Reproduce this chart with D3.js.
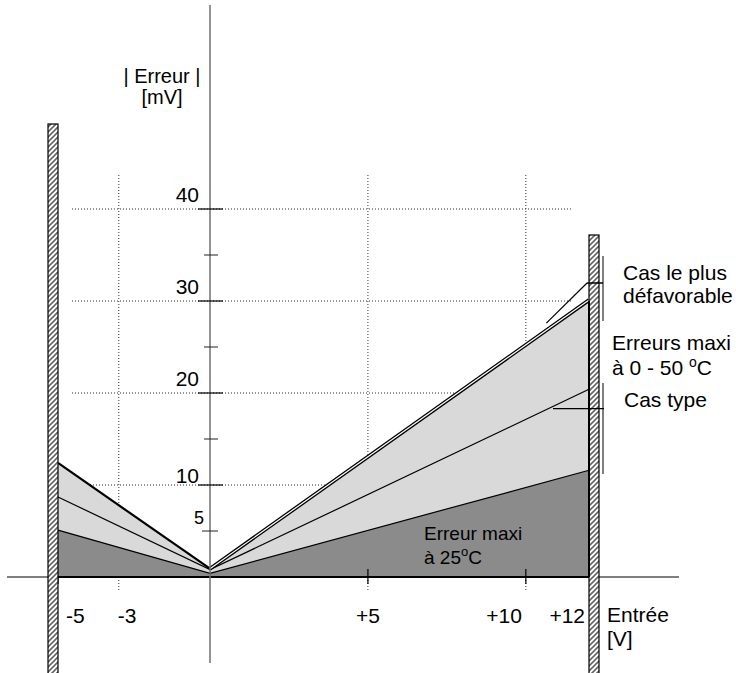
<!DOCTYPE html>
<html>
<head>
<meta charset="utf-8">
<script src="https://cdn.jsdelivr.net/npm/d3@7"></script>
<style>
  body { margin: 0; background: #fff; }
  svg text { font-family: "Liberation Sans", Arial, sans-serif; fill: #000; }
</style>
</head>
<body>
<div id="chart"></div>
<script>
// input voltage points (V)
var inputV = [-5, 0, 12];
// |error| in mV at those points
var worstCase = [12.4, 0.9, 30.1];   // cas le plus défavorable
var typical = [8.7, 0.8, 20.4];      // cas type
var maxAt25 = [5.1, 0.4, 11.6];      // erreur maxi à 25°C

var yGridVals = [10, 20, 30, 40];
var yMajorTicks = [10, 20, 30, 40];
var yMinorTicks = [15, 25, 35];
var yTickLabels = [5, 10, 20, 30, 40];
var xGridVals = [-3, 5, 10];
var xTickVals = [-5, 5, 10];
var xLabelVals = [-5, -3, 5, 10, 12];
var xLabelText = ["-5", "-3", "+5", "+10", "+12"];

var width = 736, height = 673;
var svg = d3.select("#chart").append("svg")
    .attr("width", width)
    .attr("height", height);

var x = d3.scaleLinear().domain([-5, 0, 12]).range([58, 210, 589]);
var y = d3.scaleLinear().domain([0, 40]).range([577, 209]);

var data = inputV.map(function (v, i) {
    return { v: v, worst: worstCase[i], typ: typical[i], low: maxAt25[i] };
});

// hatch pattern for the walls
var defs = svg.append("defs");
var pat = defs.append("pattern")
    .attr("id", "hatch")
    .attr("patternUnits", "userSpaceOnUse")
    .attr("width", 5).attr("height", 5);
pat.append("rect").attr("width", 5).attr("height", 5).attr("fill", "#fff");
pat.append("path")
    .attr("d", "M-1,1 l2,-2 M0,5 l5,-5 M4,6 l2,-2")
    .attr("stroke", "#666")
    .attr("stroke-width", 1.6);

// dotted grid
var grid = svg.append("g");
grid.selectAll("line.h")
    .data(yGridVals)
    .enter().append("line")
    .attr("x1", 72).attr("x2", function (d) { return d == 10 ? 568 : 573; })
    .attr("y1", function (d) { return y(d); })
    .attr("y2", function (d) { return y(d); })
    .attr("stroke", "#333").attr("stroke-width", 1)
    .attr("stroke-dasharray", "1,2");
grid.selectAll("line.v")
    .data(xGridVals)
    .enter().append("line")
    .attr("x1", function (d) { return x(d); })
    .attr("x2", function (d) { return x(d); })
    .attr("y1", 175).attr("y2", 592)
    .attr("stroke", "#333").attr("stroke-width", 1)
    .attr("stroke-dasharray", "1,2");

// areas
var lightArea = d3.area()
    .x(function (d) { return x(d.v); })
    .y0(y(0))
    .y1(function (d) { return y(d.worst); });
var darkArea = d3.area()
    .x(function (d) { return x(d.v); })
    .y0(y(0))
    .y1(function (d) { return y(d.low); });

svg.append("path").datum(data).attr("d", lightArea).attr("fill", "#d9d9d9");
svg.append("path").datum(data).attr("d", darkArea).attr("fill", "#8b8b8b");

function lineOf(key) {
    return d3.line()
        .x(function (d) { return x(d.v); })
        .y(function (d) { return y(d[key]); });
}
svg.append("path").datum(data).attr("d", lineOf("low"))
    .attr("fill", "none").attr("stroke", "#000").attr("stroke-width", 1.2);
svg.append("path").datum(data).attr("d", lineOf("typ"))
    .attr("fill", "none").attr("stroke", "#000").attr("stroke-width", 1.2);
// worst case: thick on the negative side, double line on the positive side
svg.append("path").datum(data.filter(function (d) { return d.v <= 0; }))
    .attr("d", lineOf("worst"))
    .attr("fill", "none").attr("stroke", "#000").attr("stroke-width", 2.2);
svg.append("path").datum(data.filter(function (d) { return d.v >= 0; }))
    .attr("d", lineOf("worst"))
    .attr("fill", "none").attr("stroke", "#000").attr("stroke-width", 3.8);
svg.append("path").datum(data.filter(function (d) { return d.v >= 0; }))
    .attr("d", lineOf("worst"))
    .attr("fill", "none").attr("stroke", "#fff").attr("stroke-width", 1.2);

// x axis
svg.append("line")
    .attr("x1", 7).attr("x2", 679)
    .attr("y1", y(0)).attr("y2", y(0))
    .attr("stroke", "#555").attr("stroke-width", 1.5);
svg.append("line")
    .attr("x1", x(-5)).attr("x2", x(12))
    .attr("y1", y(0)).attr("y2", y(0))
    .attr("stroke", "#000").attr("stroke-width", 2);
svg.selectAll("line.xt")
    .data(xTickVals)
    .enter().append("line")
    .attr("x1", function (d) { return x(d); })
    .attr("x2", function (d) { return x(d); })
    .attr("y1", function (d) { return d == -5 ? y(0) : y(0) - 8; })
    .attr("y2", y(0) + 7)
    .attr("stroke", "#000").attr("stroke-width", 1.2);

// y axis
svg.append("line")
    .attr("x1", x(0)).attr("x2", x(0))
    .attr("y1", 5).attr("y2", 663)
    .attr("stroke", "#707070").attr("stroke-width", 1.5);
svg.selectAll("line.ymaj")
    .data(yMajorTicks)
    .enter().append("line")
    .attr("x1", x(0) - 12).attr("x2", x(0) + 13)
    .attr("y1", function (d) { return y(d); })
    .attr("y2", function (d) { return y(d); })
    .attr("stroke", "#000").attr("stroke-width", 1.2);
svg.selectAll("line.ymin")
    .data(yMinorTicks.concat([5]))
    .enter().append("line")
    .attr("x1", function (d) { return d == 5 ? x(0) - 8 : x(0) - 6; })
    .attr("x2", x(0) + 8)
    .attr("y1", function (d) { return y(d); })
    .attr("y2", function (d) { return y(d); })
    .attr("stroke", "#222").attr("stroke-width", 1);

svg.selectAll("text.yl")
    .data(yTickLabels)
    .enter().append("text")
    .attr("x", function (d) { return d == 5 ? 204 : 199; })
    .attr("y", function (d) { return d == 10 ? y(d) - 2 : y(d) - 7; })
    .attr("text-anchor", "end")
    .style("font-size", function (d) { return d == 5 ? "18px" : "21px"; })
    .text(function (d) { return d; });

var yTitle = svg.append("text")
    .attr("text-anchor", "middle")
    .style("font-size", "20px");
yTitle.append("tspan").attr("x", 162).attr("y", 83).text("| Erreur |");
yTitle.append("tspan").attr("x", 162).attr("y", 104).text("[mV]");

// x labels
svg.selectAll("text.xl")
    .data(xLabelVals)
    .enter().append("text")
    .attr("x", function (d) {
        if (d == -5) return x(d) + 8;
        if (d == -3) return x(d) - 1;
        if (d == 5) return x(d);
        return x(d) - 4;
    })
    .attr("y", 623)
    .attr("text-anchor", function (d) {
        if (d < 0) return "start";
        if (d == 5) return "middle";
        return "end";
    })
    .style("font-size", "21px")
    .text(function (d, i) { return xLabelText[i]; });

var xTitle = svg.append("text").style("font-size", "21px");
xTitle.append("tspan").attr("x", 607).attr("y", 622).text("Entrée");
xTitle.append("tspan").attr("x", 607).attr("y", 646).text("[V]");

// walls
svg.append("rect")
    .attr("x", x(-5) - 10).attr("y", 124)
    .attr("width", 10).attr("height", height - 124 + 2)
    .attr("fill", "url(#hatch)").attr("stroke", "#000").attr("stroke-width", 1.2);
svg.append("rect")
    .attr("x", x(12)).attr("y", 235)
    .attr("width", 10).attr("height", height - 235 + 2)
    .attr("fill", "url(#hatch)").attr("stroke", "#000").attr("stroke-width", 1.2);
svg.append("line")
    .attr("x1", x(12)).attr("x2", x(12))
    .attr("y1", y(30)).attr("y2", y(0))
    .attr("stroke", "#000").attr("stroke-width", 2);

// annotations on the right
var bx = x(12) + 14;
var ann = svg.append("g").attr("stroke", "#555").attr("stroke-width", 1.5);
ann.append("line").attr("x1", bx).attr("x2", bx).attr("y1", 256).attr("y2", 321);
ann.append("line").attr("x1", x(12) - 2).attr("x2", bx).attr("y1", 283).attr("y2", 283).attr("stroke", "#000");
ann.append("line").attr("x1", x(12) - 2).attr("y1", 283)
    .attr("x2", x(10.65)).attr("y2", y(27.6)).attr("stroke", "#000").attr("stroke-width", 1.2);
ann.append("line").attr("x1", bx).attr("x2", bx).attr("y1", 383).attr("y2", 474);
ann.append("line").attr("x1", x(10.86)).attr("x2", bx + 1)
    .attr("y1", y(18.3)).attr("y2", y(18.3)).attr("stroke", "#000").attr("stroke-width", 1.2);

var rt = svg.append("g").style("font-size", "21px");
rt.append("text").attr("x", 623).attr("y", 280).text("Cas le plus");
rt.append("text").attr("x", 623).attr("y", 303).text("défavorable");
rt.append("text").attr("x", 612).attr("y", 350).text("Erreurs maxi");
var t2 = rt.append("text").attr("x", 612).attr("y", 375);
t2.append("tspan").text("à 0 - 50 ");
t2.append("tspan").attr("dy", -8).style("font-size", "14px").text("o");
t2.append("tspan").attr("dy", 8).text("C");
rt.append("text").attr("x", 624).attr("y", 407).text("Cas type");

var lt = svg.append("g").style("font-size", "19px");
lt.append("text").attr("x", 424).attr("y", 540).text("Erreur maxi");
var t3 = lt.append("text").attr("x", 424).attr("y", 564);
t3.append("tspan").text("à 25");
t3.append("tspan").attr("dy", -8).style("font-size", "13px").text("o");
t3.append("tspan").attr("dy", 8).text("C");
</script>
</body>
</html>
